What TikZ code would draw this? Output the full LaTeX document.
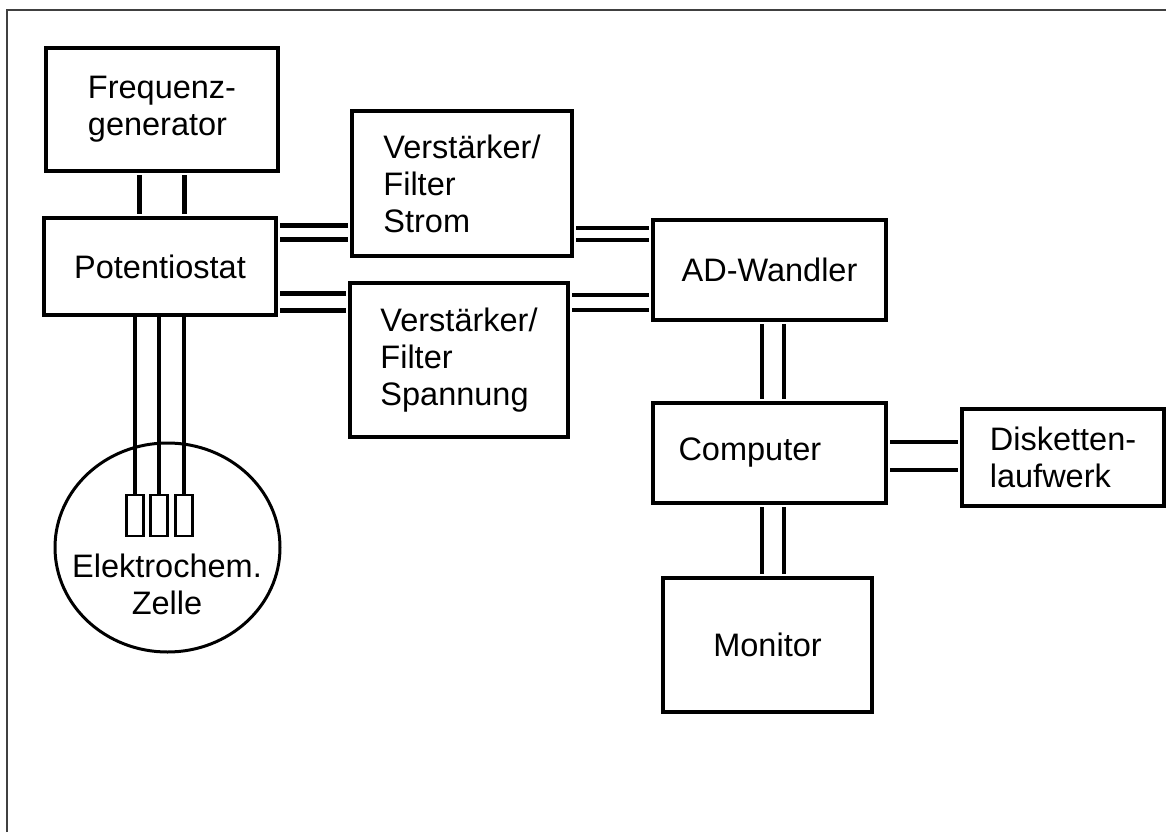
\documentclass[tikz,border=0pt]{standalone}
\usepackage{fontspec}
\setmainfont{Liberation Sans}
\usetikzlibrary{shapes.geometric}

\begin{document}
\begin{tikzpicture}[
        x=1pt, y=-1pt,
        font=\fontsize{32.5}{37}\selectfont,
        box/.style={rectangle, draw, line width=4pt, inner sep=0pt, align=left},
        electrode/.style={rectangle, draw, line width=2.5pt, minimum width=17pt, minimum height=41pt, inner sep=0pt},
        cell/.style={ellipse, draw, line width=3pt, minimum width=225pt, minimum height=209pt, inner sep=0pt},
        bus/.style={double, line width=4.5pt, double distance=#1, shorten <=2pt, shorten >=2pt},
        wire/.style={line width=4pt},
        frame line/.style={draw=black!75, line width=2pt}
    ]
        \useasboundingbox (0,0) rectangle (1166,832);

        % Frame
        \draw[frame line] (7,832) -- (7,10) -- (1166,10);

        % Boxes
        \node[box, minimum width=232pt, minimum height=123pt] (freq) at (162,109.5) {Frequenz-\\generator};
        \node[box, minimum width=232pt, minimum height=97pt] (pot) at (160,266.5) {Potentiostat};
        \node[box, minimum width=220pt, minimum height=145pt] (strom) at (462,183.5) {Verstärker/\\Filter\\Strom};
        \node[box, minimum width=218pt, minimum height=154pt] (span) at (459,360) {Verstärker/\\Filter\\Spannung};
        \node[box, minimum width=233pt, minimum height=100pt] (ad) at (769.5,270) {AD-Wandler};
        \node[box, inner xsep=25.5pt, text width=182pt, minimum height=100pt] (comp) at (769.5,453) {Computer};
        \node[box, minimum width=202pt, minimum height=97pt] (disk) at (1063,457.5) {Disketten-\\laufwerk};
        \node[box, minimum width=209pt, minimum height=134pt] (mon) at (767.5,645) {Monitor};

        % Cell with electrodes
        \node[cell] (cell) at (167.5,547.5) {};
        \node[align=center] (celltext) at (167,584) {Elektrochem.\\Zelle};
        \foreach \name/\x in {1/135, 2/159, 3/184}
        {
            \node[electrode] (E-\name) at (\x,515.5) {};
            \draw[wire] (E-\name.north) -- (E-\name.north |- pot.south);
        }

        % Connections
        \draw[bus=40.5pt] (freq.south) -- (freq.south |- pot.north);
        \draw[bus=9.5pt] ([yshift=34pt]pot.east) -- ([yshift=34pt]pot.east -| strom.west);
        \draw[bus=12.2pt] ([yshift=-35.5pt]pot.east) -- ([yshift=-35.5pt]pot.east -| span.west);
        \draw[bus=7.2pt] ([yshift=-50.5pt]strom.east) -- ([yshift=-50.5pt]strom.east -| ad.west);
        \draw[bus=10.5pt] ([yshift=57.5pt]span.east) -- ([yshift=57.5pt]span.east -| ad.west);
        \draw[bus=17.5pt] ([xshift=3.5pt]ad.south) -- ([xshift=3.5pt]ad.south |- comp.north);
        \draw[bus=23.8pt] ([yshift=-3pt]comp.east) -- ([yshift=-3pt]comp.east -| disk.west);
        \draw[bus=17.5pt] ([xshift=3.5pt]comp.south) -- ([xshift=3.5pt]comp.south |- mon.north);

\end{tikzpicture}
\end{document}
